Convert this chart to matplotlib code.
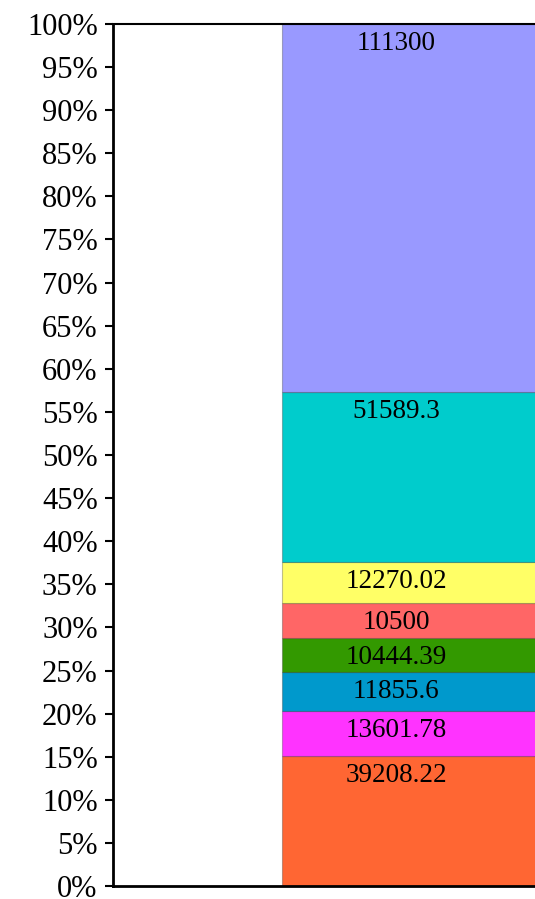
import matplotlib
matplotlib.use("Agg")
import matplotlib.pyplot as plt
import numpy as np

# segment values, bottom to top
values = [39208.22, 13601.78, 11855.6, 10444.39, 10500, 12270.02, 51589.3, 111300]
labels = ["39208.22", "13601.78", "11855.6", "10444.39", "10500", "12270.02", "51589.3", "111300"]
colors = ["#FF6633", "#FF33FF", "#0099CC", "#339900", "#FF6666", "#FFFF66", "#00CCCC", "#9999FF"]
ticks = list(range(0, 101, 5))

plt.rcParams['font.family'] = ['Liberation Serif', 'DejaVu Serif']

W, H = 535, 899
fig = plt.figure(figsize=(W / 100, H / 100), dpi=100)
ax = fig.add_axes([113 / W, 13 / H, (W - 113) / W, (886 - 24) / H])

pct = np.array(values) / sum(values) * 100
bottoms = np.concatenate([[0], np.cumsum(pct)[:-1]])

# bar runs past the right edge of the picture
bar_left = 169
for p, b, c, lab in zip(pct, bottoms, colors, labels):
    ax.bar(bar_left, p, width=400, bottom=b, align='edge', color=c,
           edgecolor=(0, 0, 0, 0.25), linewidth=0.8)
    ax.annotate(lab, (283, b + p), xytext=(0, -14), textcoords='offset points',
                ha='center', va='center', fontsize=19.5)

ax.set_xlim(0, W - 113)
ax.set_ylim(0, 100)
ax.set_yticks(ticks)
ax.set_yticklabels([f"{t}%" for t in ticks], fontsize=22)
ax.set_xticks([])
ax.tick_params(axis='y', direction='out', length=6, width=1.5, pad=5)
ax.spines['right'].set_visible(False)
ax.spines['left'].set_linewidth(2)
ax.spines['bottom'].set_linewidth(2)
ax.spines['top'].set_linewidth(1.5)

fig.savefig("out.png", dpi=100)
